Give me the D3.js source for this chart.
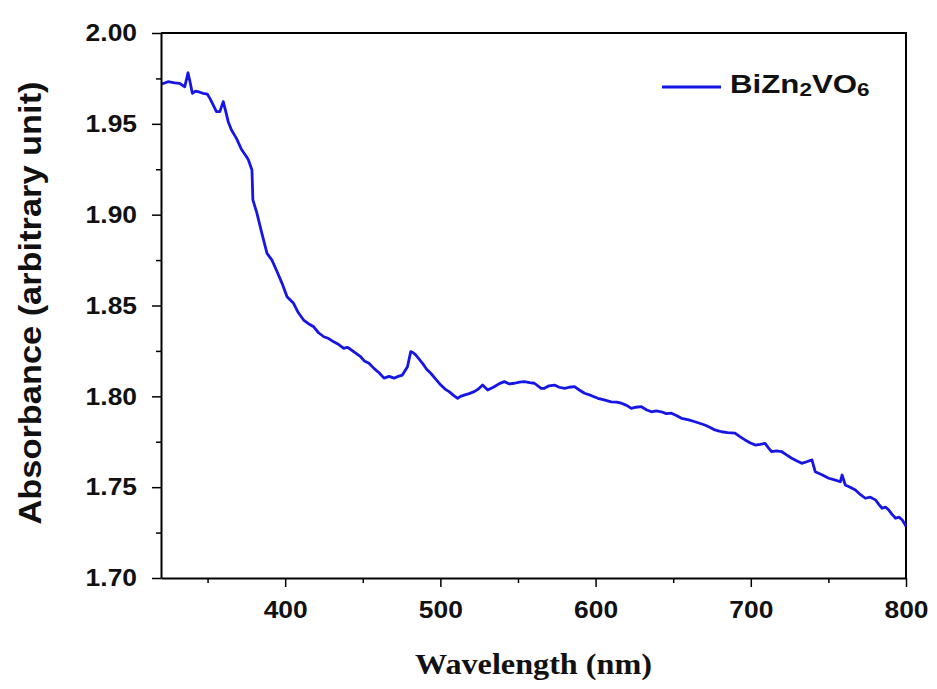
<!DOCTYPE html>
<html>
<head>
<meta charset="utf-8">
<script src="https://cdn.jsdelivr.net/npm/d3@7"></script>
<style>
  body { margin: 0; background: #fff; }
  svg { display: block; }
</style>
</head>
<body>
<div id="chart"></div>
<script>
// wavelength (nm) and absorbance
const wavelength = [
  320.6, 324.5, 328.9, 332.0, 335.3, 337.4, 338.9, 340.2, 342.2, 345.0,
  347.1, 349.9, 351.5, 353.6, 355.7, 357.9, 360.1, 361.5, 363.3, 365.4,
  368.6, 371.8, 375.1, 376.4, 378.6, 379.2, 381.8, 385.0, 388.3, 391.5,
  394.8, 398.0, 401.2, 405.4, 408.5, 411.9, 415.0, 418.4, 421.5, 424.9,
  428.0, 431.3, 434.5, 437.8, 440.0, 442.1, 445.0, 448.6, 451.0, 454.0,
  457.2, 460.5, 463.7, 467.0, 470.1, 472.8, 475.5, 478.8, 480.9, 482.5,
  484.1, 488.5, 491.0, 493.8, 497.0, 500.3, 503.0, 505.6, 508.5, 511.1,
  513.0, 515.3, 518.5, 521.8, 524.5, 527.2, 530.5, 534.7, 538.0, 541.2,
  544.5, 547.7, 551.0, 554.1, 557.5, 560.6, 564.9, 567.0, 570.0, 573.5,
  576.5, 580.0, 583.0, 586.4, 589.5, 592.9, 597.0, 601.5, 605.5, 610.1,
  613.5, 616.6, 620.0, 623.0, 626.0, 629.5, 633.0, 636.0, 639.0, 642.4,
  645.5, 648.9, 652.0, 655.4, 660.0, 664.0, 667.0, 670.4, 673.5, 676.9,
  679.0, 681.2, 685.0, 689.8, 693.0, 696.3, 699.5, 702.8, 706.0, 709.2,
  711.5, 713.5, 716.5, 720.0, 723.0, 726.4, 729.5, 732.8, 736.0, 739.4,
  741.5, 745.5, 750.2, 754.0, 757.7, 758.8, 760.9, 764.0, 767.4, 770.5,
  773.8, 777.0, 780.3, 782.5, 784.6, 786.8, 788.9, 791.0, 793.3, 795.5,
  797.6, 799.0, 800.0
];
const absorbance = [
  1.9719, 1.9732, 1.9726, 1.9723, 1.9704, 1.9781, 1.9723, 1.9668, 1.9680, 1.9674,
  1.9668, 1.9663, 1.9640, 1.9604, 1.9567, 1.9567, 1.9622, 1.9576, 1.9512, 1.9466,
  1.9420, 1.9360, 1.9319, 1.9300, 1.9246, 1.9081, 1.9008, 1.8897, 1.8787, 1.8750,
  1.8686, 1.8622, 1.8548, 1.8512, 1.8460, 1.8420, 1.8400, 1.8383, 1.8350, 1.8328,
  1.8318, 1.8300, 1.8285, 1.8264, 1.8270, 1.8259, 1.8240, 1.8218, 1.8195, 1.8182,
  1.8154, 1.8130, 1.8100, 1.8110, 1.8100, 1.8110, 1.8117, 1.8163, 1.8246, 1.8240,
  1.8228, 1.8182, 1.8150, 1.8127, 1.8095, 1.8062, 1.8040, 1.8026, 1.8005, 1.7989,
  1.8000, 1.8007, 1.8015, 1.8026, 1.8040, 1.8062, 1.8035, 1.8053, 1.8070, 1.8081,
  1.8068, 1.8072, 1.8078, 1.8081, 1.8075, 1.8072, 1.8044, 1.8044, 1.8058, 1.8062,
  1.8050, 1.8044, 1.8050, 1.8053, 1.8035, 1.8017, 1.8005, 1.7989, 1.7980, 1.7970,
  1.7968, 1.7962, 1.7950, 1.7934, 1.7940, 1.7943, 1.7925, 1.7915, 1.7920, 1.7915,
  1.7905, 1.7907, 1.7895, 1.7879, 1.7870, 1.7860, 1.7852, 1.7842, 1.7830, 1.7815,
  1.7810, 1.7805, 1.7800, 1.7797, 1.7778, 1.7760, 1.7745, 1.7732, 1.7736, 1.7741,
  1.7715, 1.7695, 1.7700, 1.7695, 1.7678, 1.7659, 1.7645, 1.7631, 1.7640, 1.7650,
  1.7585, 1.7570, 1.7549, 1.7540, 1.7530, 1.7567, 1.7512, 1.7500, 1.7484, 1.7460,
  1.7439, 1.7445, 1.7430, 1.7405, 1.7384, 1.7390, 1.7374, 1.7350, 1.7329, 1.7335,
  1.7319, 1.7300, 1.7285
];
const xTicks = [400, 500, 600, 700, 800];
const xMinorTicks = [350, 450, 550, 650, 750];
const yTicks = [1.70, 1.75, 1.80, 1.85, 1.90, 1.95, 2.00];
const yMinorTicks = [1.725, 1.775, 1.825, 1.875, 1.925, 1.975];
const seriesName = "BiZn2VO6";

const W = 937, H = 689;
const margin = { top: 33, right: 31, bottom: 111, left: 161 };
const width = W - margin.left - margin.right;
const height = H - margin.top - margin.bottom;
const lineColor = "#1515e6";
const sansFont = "'Liberation Sans', Arial, sans-serif";

const svg = d3.select("#chart").append("svg")
  .attr("width", W)
  .attr("height", H);

const g = svg.append("g")
  .attr("transform", `translate(${margin.left},${margin.top})`);

const x = d3.scaleLinear().domain([320, 800]).range([0, width]);
const y = d3.scaleLinear().domain([1.70, 2.00]).range([height, 0]);

const data = wavelength.map((w, i) => ({ w, a: absorbance[i] }));

// the original figure is a bit wider than tall, so text is stretched sideways
function stretch(sel, k) {
  sel.each(function () {
    const len = this.getComputedTextLength();
    d3.select(this).attr("textLength", len * k).attr("lengthAdjust", "spacingAndGlyphs");
  });
}

// frame (top and right edges)
g.append("path")
  .attr("d", `M0,0H${width}V${height}`)
  .attr("fill", "none")
  .attr("stroke", "#000")
  .attr("stroke-width", 2);

// curve
g.append("path")
  .datum(data)
  .attr("fill", "none")
  .attr("stroke", lineColor)
  .attr("stroke-width", 2.8)
  .attr("stroke-linejoin", "round")
  .attr("d", d3.line().x(d => x(d.w)).y(d => y(d.a)));

// x axis
const xAxis = g.append("g")
  .attr("transform", `translate(0,${height})`)
  .call(d3.axisBottom(x).tickValues(xTicks).tickSize(9).tickPadding(9).tickSizeOuter(0));
g.append("g")
  .attr("transform", `translate(0,${height})`)
  .call(d3.axisBottom(x).tickValues(xMinorTicks).tickSize(5).tickFormat("").tickSizeOuter(0))
  .select(".domain").remove();

// y axis
const yAxis = g.append("g")
  .call(d3.axisLeft(y).tickValues(yTicks).tickSize(9).tickPadding(15)
    .tickFormat(d3.format(".2f")).tickSizeOuter(0));
g.append("g")
  .call(d3.axisLeft(y).tickValues(yMinorTicks).tickSize(5).tickFormat("").tickSizeOuter(0))
  .select(".domain").remove();

g.selectAll(".domain").attr("stroke", "#000").attr("stroke-width", 2);
g.selectAll(".tick line").attr("stroke", "#000").attr("stroke-width", 1.5);
g.selectAll(".tick text")
  .attr("fill", "#111")
  .style("font-family", sansFont)
  .style("font-weight", "bold")
  .style("font-size", "24px");
xAxis.selectAll(".tick text").attr("dy", "0.9em");
stretch(g.selectAll(".tick text"), 1.1);

// axis titles
svg.append("text")
  .attr("x", margin.left + width / 2)
  .attr("y", 674)
  .attr("text-anchor", "middle")
  .style("font-family", "'Liberation Serif', 'Times New Roman', serif")
  .style("font-weight", "bold")
  .style("font-size", "29px")
  .attr("fill", "#111")
  .attr("textLength", 237)
  .attr("lengthAdjust", "spacingAndGlyphs")
  .text("Wavelength (nm)");

svg.append("text")
  .attr("transform", `translate(41,303) rotate(-90)`)
  .attr("text-anchor", "middle")
  .style("font-family", sansFont)
  .style("font-weight", "bold")
  .style("font-size", "32px")
  .attr("fill", "#111")
  .attr("textLength", 443)
  .attr("lengthAdjust", "spacingAndGlyphs")
  .text("Absorbance (arbitrary unit)");

// legend
const legend = g.append("g").attr("transform", `translate(${662 - margin.left},${87 - margin.top})`);
legend.append("line")
  .attr("x1", 0).attr("x2", 59)
  .attr("stroke", lineColor)
  .attr("stroke-width", 2.8);
const lt = legend.append("text")
  .attr("transform", "translate(68,6) scale(1.25,1)")
  .style("font-family", sansFont)
  .style("font-weight", "bold")
  .style("font-size", "25px")
  .attr("fill", "#111");
// split the series name so digits render as subscripts
seriesName.match(/\d+|\D+/g).forEach((part, i) => {
  const isNum = /\d/.test(part);
  lt.append("tspan")
    .attr("dy", isNum ? 3 : (i ? -3 : 0))
    .style("font-size", isNum ? "18px" : "25px")
    .text(part);
});
</script>
</body>
</html>
